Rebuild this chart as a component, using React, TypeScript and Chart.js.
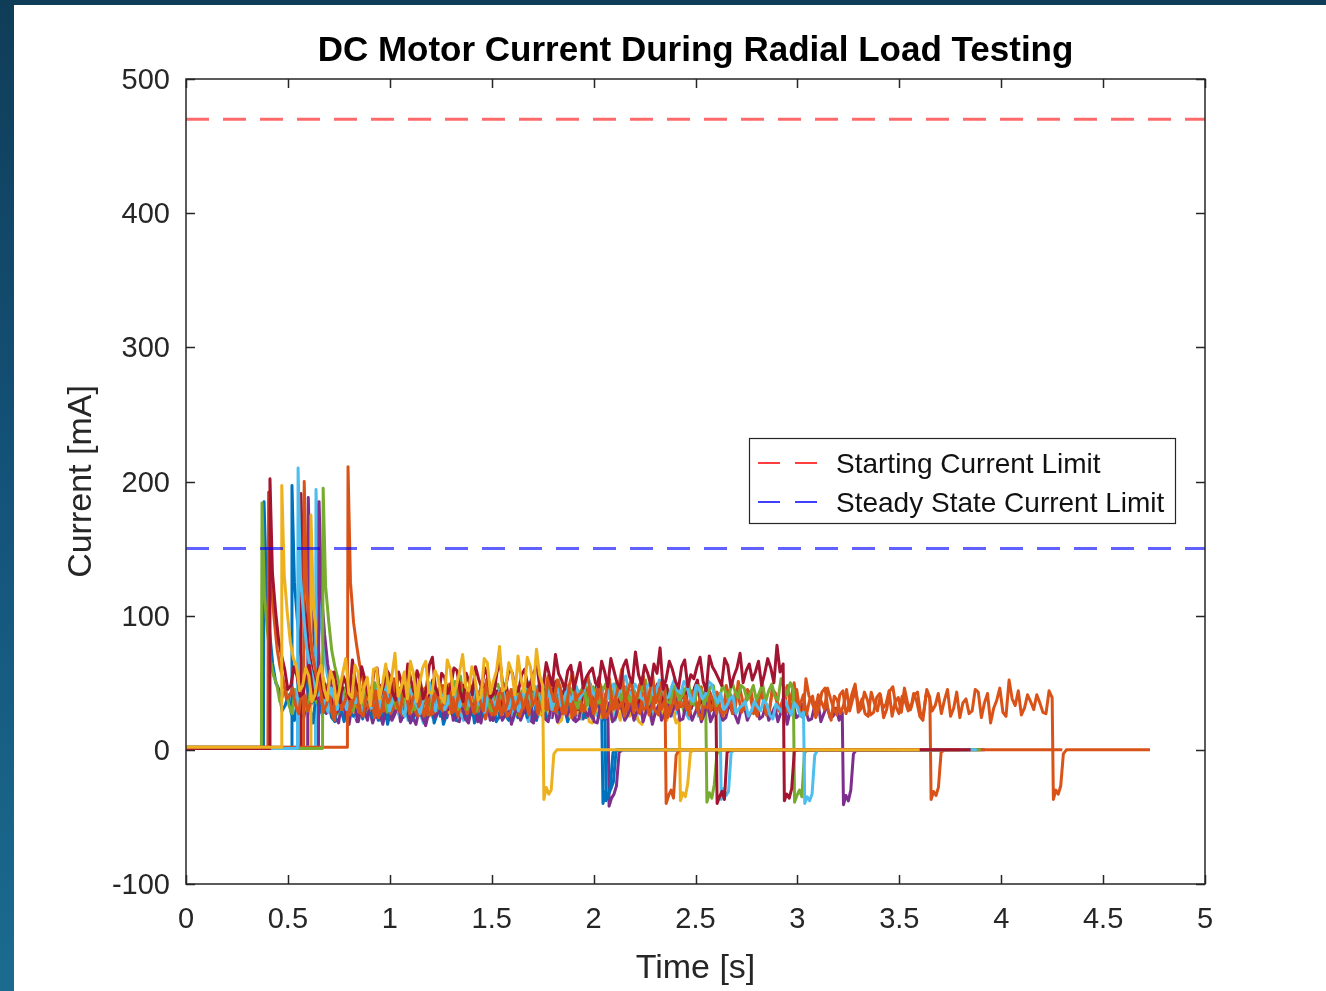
import React, { useEffect, useRef } from "react";
import { Chart, registerables } from "chart.js";

Chart.register(...registerables);

// ---------- data ----------
const titleText = "DC Motor Current During Radial Load Testing";
const xAxisTitle = "Time [s]";
const yAxisTitle = "Current [mA]";
const xTicks = [0, 0.5, 1, 1.5, 2, 2.5, 3, 3.5, 4, 4.5, 5];
const yTicks = [-100, 0, 100, 200, 300, 400, 500];
const xRange = [0, 5];
const yRange = [-100, 500];

const legendLabels = ["Starting Current Limit", "Steady State Current Limit"];
const startingCurrentLimit = 470;
const steadyStateCurrentLimit = 150;

const BLUE = "#0072BD";
const ORANGE = "#D95319";
const YELLOW = "#EDB120";
const PURPLE = "#7E2F8E";
const GREEN = "#77AC30";
const LIGHTBLUE = "#4DBEEE";
const DARKRED = "#A2142F";

const traceColors = [BLUE, BLUE, YELLOW, YELLOW, ORANGE, ORANGE, ORANGE, DARKRED, DARKRED, GREEN, GREEN, LIGHTBLUE, LIGHTBLUE, PURPLE, PURPLE];
const traceOrder = [12, 13, 1, 10, 3, 6, 7, 2, 9, 11, 5, 4, 14, 8, 15];
const onTimes = [0.383, 0.52, 0.47, 0.613, 0.405, 0.58, 0.795, 0.412, 0.564, 0.373, 0.673, 0.55, 0.638, 0.653, 0.6];
const peakCurrents = [185, 197, 197, 175, 192, 200, 211, 202, 191, 184, 195, 210, 194, 185, 188];
const offTimes = [2.04, 2.055, 1.75, 2.42, 2.35, 3.65, 4.25, 2.93, 2.6, 2.55, 2.98, 3.03, 2.62, 3.22, 2.07];
const endTimes = [3.72, 3.45, 3.6, 3.3, 3.8, 4.3, 4.73, 3.85, 3.5, 3.75, 3.9, 3.88, 3.7, 3.92, 3.6];
const idleLevels = [1, 1, 2, 1, 2, 1, 2, 1, 1, 2, 1, 1, 2, 1, 1];
const dropOffsets = [0.006, 0.018, 0.03, 0.042, 0.055];
const dropCurrents = [
  [-40, -31, -36, -27, -2],
  [-38, -33, -29, -24, -1],
  [-37, -28, -33, -30, -3],
  [-38, -32, -35, -25, -2],
  [-40, -34, -30, -36, -4],
  [-37, -31, -34, -28, -2],
  [-37, -30, -33, -27, -3],
  [-38, -33, -36, -29, -1],
  [-40, -35, -31, -37, -2],
  [-39, -32, -36, -26, -3],
  [-39, -34, -30, -35, -2],
  [-40, -35, -38, -33, -4],
  [-37, -29, -34, -31, -2],
  [-41, -34, -38, -30, -3],
  [-42, -36, -33, -27, -2],
];

// running current samples (main samples)
const run1 = [118, 64, 45, 33, 27, 38, 24, 31, 43, 26, 35, 21, 30, 39, 25, 33, 48, 28, 22, 36, 29, 41, 24, 32, 27, 44, 30, 20, 34, 26, 38, 29, 23, 36, 31, 25, 46, 28, 33, 22, 30, 40, 27, 24, 35, 29, 37, 23, 32, 28, 26, 41, 30, 34, 25];
const run2 = [125, 72, 50, 36, 42, 29, 34, 47, 31, 26, 39, 33, 45, 28, 37, 24, 41, 35, 30, 48, 27, 38, 32, 44, 29, 36, 22, 40, 34, 31, 46, 28, 37, 25, 42, 33, 29, 39, 35, 27, 44, 31, 36, 24, 38, 30, 43, 34, 28, 37, 32];
const run3 = [130, 80, 62, 48, 55, 41, 63, 37, 52, 45, 68, 39, 58, 47, 33, 61, 50, 43, 72, 46, 38, 57, 49, 66, 42, 54, 35, 60, 48, 71, 44, 53, 40, 65, 51, 77, 46, 58, 70, 43, 62, 75, 48];
const run4 = [110, 68, 47, 38, 44, 31, 40, 35, 49, 29, 37, 42, 33, 46, 28, 39, 36, 51, 30, 41, 34, 45, 27, 38, 43, 32, 47, 35, 29, 40, 36, 44, 31, 39, 48, 33, 37, 30, 26, 34, 22, 29, 37, 24, 31, 20, 28, 35, 23, 30, 41, 25, 27, 19, 33, 26, 38, 22, 29, 24];
const run5 = [128, 75, 52, 40, 33, 45, 29, 38, 50, 34, 27, 42, 36, 31, 47, 25, 39, 44, 30, 35, 53, 28, 41, 37, 32, 46, 26, 40, 34, 49, 30, 38, 43, 27, 36, 52, 33, 41, 29, 45, 35, 31, 48, 38, 42, 55, 36, 47, 30, 58, 41, 50, 34, 45, 28, 53, 39, 60, 44, 37, 49, 32, 56, 42, 46];
const run6 = [120, 70, 48, 36, 29, 41, 33, 26, 38, 44, 31, 24, 37, 47, 30, 35, 28, 42, 33, 25, 39, 46, 29, 36, 32, 50, 27, 40, 34, 23, 43, 31, 37, 28, 45, 33, 26, 39, 48, 30, 35, 41, 27, 36, 44, 29, 38, 33, 24, 46, 31, 40, 35, 28, 49, 32, 37, 26, 42, 34, 30, 45, 28, 38, 23, 41, 36, 31, 48, 27, 39, 33, 44, 25, 37, 30, 42, 35, 28, 50, 34, 26, 40, 31, 46, 22, 37, 33, 29, 44, 38, 25, 35, 41, 30, 47, 27, 36, 32, 43, 28, 39];
const run7 = [125, 78, 55, 42, 35, 28, 40, 33, 46, 30, 37, 25, 43, 34, 29, 48, 36, 31, 39, 27, 44, 33, 38, 26, 41, 35, 30, 47, 32, 28, 40, 36, 45, 29, 34, 38, 24, 42, 31, 49, 33, 37, 28, 43, 35, 30, 46, 27, 39, 32, 41, 36, 29, 44, 33, 26, 38, 47, 31, 35, 42, 28, 37, 51, 30, 39, 34, 45, 27, 40, 32, 48, 36, 29, 53, 35, 41, 30, 38, 26, 44, 33, 49, 31, 37, 28, 42, 34, 25, 39, 46, 30, 36, 22, 40, 33, 27, 45, 31, 24, 38, 29, 43, 35, 20, 37, 28, 52, 33, 26, 41, 30, 35, 27, 39];
const run8 = [132, 82, 60, 48, 55, 42, 63, 38, 51, 46, 58, 35, 49, 67, 44, 53, 40, 61, 47, 56, 37, 50, 64, 43, 52, 45, 69, 41, 54, 48, 59, 36, 50, 62, 46, 55, 42, 66, 49, 57, 44, 60, 51, 63, 48, 56, 71, 52, 59, 45, 65, 54, 61, 47, 58, 68, 50, 62, 55, 73, 49, 57, 64, 76, 53, 60, 46, 67, 56, 62, 51, 70, 58, 48, 63, 55, 72, 59, 52, 66, 57, 61, 78, 64];
const run9 = [118, 70, 51, 43, 36, 48, 32, 41, 53, 38, 29, 45, 40, 34, 50, 37, 42, 27, 46, 39, 33, 52, 41, 36, 44, 30, 48, 38, 43, 35, 55, 40, 31, 47, 37, 42, 28, 49, 39, 45, 34, 51, 41, 36, 46, 32, 43, 38, 54, 40, 35, 47, 30, 44, 39, 50, 37, 42, 33, 48, 41, 36, 45, 31, 52, 39, 43, 37];
const run10 = [115, 66, 49, 40, 33, 45, 37, 29, 42, 51, 35, 40, 27, 46, 38, 32, 48, 36, 43, 30, 53, 39, 34, 44, 28, 41, 37, 49, 33, 45, 31, 39, 55, 36, 42, 29, 47, 38, 34, 50, 40, 26, 44, 37, 48, 33, 41, 35, 52, 39, 30, 45, 36, 43, 28, 47, 40, 34, 50, 38, 42, 32, 46, 37, 41, 29, 44, 39, 35, 48, 33, 40, 36];
const run11 = [122, 74, 53, 42, 35, 47, 31, 40, 50, 36, 28, 44, 39, 33, 48, 37, 42, 26, 45, 38, 34, 51, 40, 30, 46, 36, 43, 29, 49, 38, 35, 44, 32, 41, 47, 37, 53, 33, 42, 39, 45, 31, 48, 40, 36, 44, 41, 49, 37, 43, 46, 39, 52, 42, 38, 47, 35, 44, 41, 50, 36, 45, 40, 48, 38, 43, 51, 39, 46, 42, 37, 49, 44, 40, 53, 41, 45];
const run12 = [128, 76, 54, 41, 34, 46, 30, 38, 49, 35, 27, 43, 37, 31, 47, 36, 40, 25, 44, 33, 38, 50, 29, 41, 35, 45, 32, 39, 48, 34, 28, 42, 37, 46, 31, 40, 35, 51, 33, 43, 38, 30, 45, 39, 36, 47, 42, 52, 40, 45, 38, 49, 43, 55, 41, 46, 37, 50, 44, 48, 39, 53, 42, 47, 36, 45, 41, 49, 35, 30, 38, 27, 33, 25, 36, 29, 34, 23, 31, 37, 26, 32, 28];
const run13 = [120, 68, 46, 35, 28, 39, 24, 32, 41, 29, 22, 36, 31, 26, 43, 28, 34, 20, 38, 30, 25, 40, 33, 27, 45, 29, 35, 23, 37, 31, 26, 42, 30, 34, 21, 39, 28, 33, 44, 27, 32, 24, 37, 30, 41, 26, 35, 29, 22, 38, 31, 27, 43, 33, 25, 36, 30, 40, 28, 34, 23, 37, 29, 32, 26, 35];
const run14 = [116, 64, 42, 31, 25, 34, 21, 29, 37, 24, 19, 32, 27, 22, 36, 26, 30, 18, 33, 28, 23, 38, 25, 31, 20, 35, 27, 29, 22, 34, 26, 19, 31, 28, 37, 24, 30, 21, 33, 27, 25, 36, 23, 29, 32, 20, 28, 35, 24, 31, 26, 22, 34, 29, 19, 33, 27, 25, 38, 23, 30, 28, 21, 35, 26, 31, 24, 29, 20, 33, 27, 36, 25, 22, 32, 28, 19, 34, 26, 30, 23, 37, 27, 24, 31, 28];
const run15 = [112, 62, 40, 30, 24, 35, 22, 28, 38, 26, 20, 33, 29, 23, 37, 27, 31, 19, 34, 25, 30, 39, 24, 32, 21, 36, 28, 26, 33, 22, 35, 29, 25, 40, 27, 31, 20, 34, 28, 24, 37, 30, 26, 33, 23, 29, 36, 27, 31];

// in-between samples (taken halfway between the main samples)
const mid1 = [88, 50, 29, 41, 22, 27, 36, 20, 33, 40, 24, 34, 21, 37, 44, 23, 31, 40, 25, 19, 34, 30, 43, 22, 35, 21, 38, 27, 19, 35, 24, 40, 29, 20, 37, 33, 22, 39, 26, 34, 24, 33, 38, 22, 40, 26, 31, 36, 21, 38, 33, 24, 39, 28];
const mid2 = [95, 58, 33, 45, 27, 41, 25, 36, 40, 35, 28, 46, 24, 38, 23, 43, 30, 42, 22, 36, 45, 26, 41, 25, 39, 47, 33, 26, 43, 22, 35, 44, 21, 39, 27, 40, 34, 24, 41, 32, 23, 43, 30, 45, 26, 37, 24, 40, 33, 25];
const mid3 = [102, 68, 44, 61, 36, 56, 45, 59, 34, 57, 42, 63, 35, 54, 60, 38, 64, 55, 40, 58, 66, 36, 61, 43, 59, 39, 67, 41, 58, 47, 62, 37, 68, 42, 59, 44, 65, 41, 52, 69, 45, 56];
const mid4 = [86, 55, 36, 47, 30, 43, 28, 46, 33, 41, 27, 38, 45, 31, 42, 26, 44, 34, 40, 29, 46, 31, 40, 28, 45, 36, 30, 42, 39, 27, 45, 30, 43, 28, 37, 42, 26, 35, 31, 20, 33, 24, 29, 35, 21, 32, 24, 30, 36, 22, 33, 29, 21, 31, 22, 30, 27, 33, 20];
const mid5 = [98, 61, 38, 46, 27, 40, 36, 45, 28, 40, 37, 30, 44, 39, 28, 41, 33, 26, 43, 40, 33, 45, 27, 44, 39, 29, 42, 31, 45, 28, 43, 32, 35, 44, 29, 40, 27, 46, 36, 30, 42, 39, 33, 48, 31, 44, 52, 29, 49, 37, 43, 56, 30, 49, 44, 31, 48, 36, 52, 40, 55, 43, 35, 51];
const mid6 = [90, 57, 34, 45, 22, 37, 40, 31, 28, 36, 41, 33, 29, 38, 43, 26, 39, 30, 44, 34, 27, 37, 42, 28, 45, 35, 41, 30, 44, 36, 26, 40, 25, 41, 29, 38, 42, 27, 35, 43, 28, 33, 45, 26, 34, 42, 27, 45, 37, 30, 43, 25, 44, 39, 30, 41, 29, 44, 27, 41, 36, 31, 44, 27, 40, 29, 43, 25, 38, 44, 28, 42, 31, 43, 26, 45, 29, 41, 39, 32, 41, 37, 24, 43, 30, 40, 27, 45, 38, 31, 27, 43, 29, 24, 44, 32, 40, 29, 41, 26, 45];
const mid7 = [95, 63, 36, 47, 24, 37, 27, 44, 34, 41, 29, 38, 26, 45, 40, 30, 43, 25, 36, 42, 28, 44, 30, 37, 26, 43, 36, 25, 41, 37, 27, 42, 31, 40, 27, 44, 33, 29, 43, 30, 41, 24, 39, 30, 44, 37, 31, 42, 26, 44, 30, 24, 42, 32, 40, 43, 29, 33, 42, 27, 36, 44, 30, 41, 45, 27, 42, 30, 44, 33, 42, 31, 45, 24, 40, 29, 36, 46, 31, 41, 27, 42, 28, 43, 26, 39, 31, 44, 36, 28, 35, 42, 25, 41, 29, 42, 37, 25, 43, 35, 27, 45, 24, 42, 31, 46, 25, 38, 44, 31, 36, 41, 28, 44];
const mid8 = [104, 70, 45, 62, 40, 56, 45, 60, 39, 57, 44, 55, 38, 51, 62, 41, 58, 39, 60, 43, 58, 40, 52, 59, 38, 63, 46, 57, 42, 61, 44, 57, 41, 53, 61, 39, 58, 45, 61, 43, 56, 47, 58, 44, 65, 48, 57, 45, 63, 55, 46, 58, 50, 66, 47, 59, 46, 67, 50, 56, 63, 48, 57, 45, 66, 51, 62, 47, 53, 69, 44, 62, 53, 68, 47, 61, 50, 64, 58, 48, 68, 50, 58];
const mid9 = [92, 58, 40, 49, 30, 42, 46, 33, 44, 31, 41, 35, 48, 38, 42, 30, 48, 35, 30, 45, 41, 34, 47, 30, 49, 37, 33, 46, 31, 47, 36, 44, 39, 33, 47, 30, 44, 34, 50, 32, 44, 30, 46, 38, 30, 47, 36, 45, 31, 46, 41, 32, 47, 35, 31, 45, 33, 49, 40, 31, 47, 39, 32, 46, 35, 47, 30];
const mid10 = [88, 55, 36, 45, 27, 40, 32, 44, 35, 40, 45, 30, 41, 31, 45, 40, 29, 44, 34, 46, 30, 44, 26, 40, 46, 32, 44, 30, 42, 34, 46, 36, 27, 44, 33, 46, 30, 44, 28, 35, 44, 36, 29, 44, 30, 48, 29, 45, 30, 48, 37, 28, 47, 32, 44, 31, 46, 27, 44, 30, 39, 47, 29, 45, 34, 47, 31, 46, 28, 40, 44, 30];
const mid11 = [96, 62, 40, 49, 29, 41, 45, 33, 42, 46, 38, 31, 46, 41, 30, 47, 33, 44, 31, 47, 41, 30, 46, 41, 29, 45, 33, 47, 39, 32, 45, 38, 47, 33, 44, 29, 43, 46, 33, 47, 37, 44, 33, 47, 35, 49, 35, 44, 47, 36, 40, 48, 34, 46, 45, 36, 48, 37, 46, 34, 48, 34, 47, 33, 48, 38, 44, 48, 37, 48, 43, 36, 49, 37, 46, 50];
const mid12 = [100, 63, 40, 47, 28, 38, 44, 30, 43, 40, 34, 31, 45, 40, 29, 44, 30, 46, 36, 27, 44, 37, 42, 30, 45, 36, 41, 33, 38, 46, 39, 33, 45, 30, 43, 29, 44, 37, 47, 35, 44, 41, 33, 46, 41, 38, 50, 44, 48, 38, 46, 39, 50, 44, 49, 39, 47, 41, 52, 39, 47, 44, 51, 39, 48, 38, 51, 40, 42, 33, 40, 31, 36, 29, 32, 37, 26, 34, 28, 31, 35, 25];
const mid13 = [90, 54, 31, 40, 22, 33, 38, 25, 34, 36, 30, 25, 37, 34, 22, 37, 26, 35, 24, 36, 32, 27, 38, 22, 36, 26, 38, 31, 24, 36, 34, 22, 37, 28, 34, 25, 36, 24, 32, 35, 26, 35, 23, 36, 32, 24, 38, 33, 31, 24, 36, 23, 35, 28, 38, 26, 35, 25, 38, 27, 34, 25, 36, 24, 37];
const mid14 = [86, 50, 28, 36, 19, 30, 32, 22, 33, 28, 30, 22, 35, 30, 20, 33, 24, 28, 24, 35, 31, 22, 33, 23, 32, 21, 36, 25, 31, 22, 31, 27, 22, 33, 21, 35, 23, 32, 21, 34, 30, 21, 34, 25, 21, 32, 24, 21, 33, 22, 33, 29, 21, 34, 28, 22, 34, 31, 22, 35, 22, 33, 27, 21, 35, 22, 34, 26, 30, 22, 32, 23, 33, 27, 21, 36, 29, 24, 34, 22, 33, 21, 33, 25, 22];
const mid15 = [84, 48, 27, 35, 20, 31, 34, 21, 33, 30, 28, 24, 34, 31, 21, 35, 24, 30, 23, 35, 33, 25, 35, 22, 33, 23, 34, 20, 35, 26, 24, 35, 32, 24, 36, 22, 33, 25, 31, 35, 26, 35, 22, 34, 30, 23, 34, 22];

const runCurrents = [run1, run2, run3, run4, run5, run6, run7, run8, run9, run10, run11, run12, run13, run14, run15];
const midCurrents = [mid1, mid2, mid3, mid4, mid5, mid6, mid7, mid8, mid9, mid10, mid11, mid12, mid13, mid14, mid15];

// ---------- styling ----------
const FONT = "'Liberation Sans', Arial, Helvetica, sans-serif";
const AXIS_COLOR = "#262626";
const CANVAS_W = 1312;
const CANVAS_H = 986;

function buildTrace(i: number) {
  const pts: { x: number; y: number }[] = [];
  const on = onTimes[i];
  const off = offTimes[i];
  pts.push({ x: 0, y: idleLevels[i] });
  pts.push({ x: on - 0.003, y: idleLevels[i] });
  pts.push({ x: on, y: peakCurrents[i] });
  const run = runCurrents[i];
  const mid = midCurrents[i];
  const t0 = on + 0.012;
  const step = (off - t0) / (run.length - 1);
  run.forEach((v, k) => {
    pts.push({ x: t0 + k * step, y: v });
    if (k < run.length - 1 && k < mid.length) pts.push({ x: t0 + (k + 0.5) * step, y: mid[k] });
  });
  dropCurrents[i].forEach((v, k) => pts.push({ x: off + dropOffsets[k], y: v }));
  pts.push({ x: off + 0.07, y: 0 });
  pts.push({ x: endTimes[i], y: 0 });
  return pts;
}

const frameAndLegend = {
  id: "frameAndLegend",
  beforeDatasetsDraw(chart: any) {
    const { ctx, chartArea: a, scales } = chart;
    ctx.save();
    ctx.strokeStyle = AXIS_COLOR;
    ctx.lineWidth = 1.5;
    const tl = 9;
    ctx.beginPath();
    xTicks.forEach((v) => {
      const px = Math.round(scales.x.getPixelForValue(v)) + 0.5;
      ctx.moveTo(px, a.bottom);
      ctx.lineTo(px, a.bottom - tl);
      ctx.moveTo(px, a.top);
      ctx.lineTo(px, a.top + tl);
    });
    yTicks.forEach((v) => {
      const py = Math.round(scales.y.getPixelForValue(v)) + 0.5;
      ctx.moveTo(a.left, py);
      ctx.lineTo(a.left + tl, py);
      ctx.moveTo(a.right, py);
      ctx.lineTo(a.right - tl, py);
    });
    ctx.stroke();
    ctx.restore();
  },
  afterDatasetsDraw(chart: any) {
    const { ctx, chartArea: a } = chart;
    ctx.save();
    ctx.strokeStyle = AXIS_COLOR;
    ctx.lineWidth = 1.5;
    ctx.strokeRect(a.left, a.top, a.right - a.left, a.bottom - a.top);
    // legend
    const lx = 735, ly = 433, lw = 426, lh = 85;
    ctx.fillStyle = "#ffffff";
    ctx.fillRect(lx, ly, lw, lh);
    ctx.lineWidth = 1.2;
    ctx.strokeRect(lx + 0.5, ly + 0.5, lw, lh);
    const rows = [
      { label: legendLabels[0], color: "#ff0000", y: ly + 25 },
      { label: legendLabels[1], color: "#0000ff", y: ly + 64 },
    ];
    rows.forEach((r) => {
      ctx.strokeStyle = r.color;
      ctx.lineWidth = 1.6;
      ctx.setLineDash([22, 15]);
      ctx.beginPath();
      ctx.moveTo(lx + 9, r.y);
      ctx.lineTo(lx + 69, r.y);
      ctx.stroke();
      ctx.setLineDash([]);
      ctx.fillStyle = "#111111";
      ctx.font = `28px ${FONT}`;
      ctx.textBaseline = "middle";
      ctx.textAlign = "left";
      ctx.fillText(r.label, lx + 87, r.y + 2);
    });
    ctx.restore();
  },
};

export default function App() {
  const canvasRef = useRef<HTMLCanvasElement>(null);

  useEffect(() => {
    document.body.style.margin = "0";
    const traceSets = traceColors.map((c, i) => ({
      label: `Run ${i + 1}`,
      data: buildTrace(i),
      borderColor: c,
      borderWidth: 3,
      borderJoinStyle: "round",
      pointRadius: 0,
      fill: false,
      tension: 0,
      order: traceOrder[i],
    }));
    const refSets = [
      {
        label: legendLabels[0],
        data: [
          { x: xRange[0], y: startingCurrentLimit },
          { x: xRange[1], y: startingCurrentLimit },
        ],
        borderColor: "rgba(255,0,0,0.58)",
        borderWidth: 3,
        borderDash: [23, 14],
        pointRadius: 0,
        order: 0,
      },
      {
        label: legendLabels[1],
        data: [
          { x: xRange[0], y: steadyStateCurrentLimit },
          { x: xRange[1], y: steadyStateCurrentLimit },
        ],
        borderColor: "rgba(0,0,255,0.62)",
        borderWidth: 3,
        borderDash: [23, 14],
        pointRadius: 0,
        order: 0,
      },
    ];

    const chart = new Chart(canvasRef.current!, {
      type: "line",
      data: { datasets: [...refSets, ...traceSets] as any },
      options: {
        animation: false,
        responsive: false,
        devicePixelRatio: 1,
        parsing: false as any,
        layout: { padding: { left: 0, right: 121, top: 0, bottom: 0 } },
        plugins: {
          legend: { display: false },
          tooltip: { enabled: false },
          title: {
            display: true,
            text: titleText,
            fullSize: false,
            color: "#000000",
            font: { family: FONT, size: 35, weight: "bold", lineHeight: 1.2 },
            padding: { top: 25, bottom: 7 },
          },
        },
        scales: {
          x: {
            type: "linear",
            min: xRange[0],
            max: xRange[1],
            grid: { display: false, drawTicks: false },
            border: { display: false },
            afterFit: (s: any) => {
              s.height = 107;
            },
            afterBuildTicks: (s: any) => {
              s.ticks = xTicks.map((v) => ({ value: v }));
            },
            ticks: {
              color: AXIS_COLOR,
              padding: 19,
              maxRotation: 0,
              autoSkip: false,
              font: { family: FONT, size: 29 },
              callback: (v: any) => String(v),
            },
            title: {
              display: true,
              text: xAxisTitle,
              color: AXIS_COLOR,
              font: { family: FONT, size: 34 },
              padding: { top: 0, bottom: 2 },
            },
          },
          y: {
            type: "linear",
            min: yRange[0],
            max: yRange[1],
            grid: { display: false, drawTicks: false },
            border: { display: false },
            afterFit: (s: any) => {
              s.width = 172;
            },
            afterBuildTicks: (s: any) => {
              s.ticks = yTicks.map((v) => ({ value: v }));
            },
            ticks: {
              color: AXIS_COLOR,
              padding: 16,
              labelOffset: 2,
              autoSkip: false,
              font: { family: FONT, size: 29 },
              callback: (v: any) => String(v),
            },
            title: {
              display: true,
              text: yAxisTitle,
              color: AXIS_COLOR,
              font: { family: FONT, size: 34 },
              padding: { top: 47, bottom: 0 },
            },
          },
        },
      },
      plugins: [frameAndLegend],
    });
    return () => chart.destroy();
  }, []);

  return (
    <div
      style={{
        position: "absolute",
        left: 0,
        top: 0,
        width: 1326,
        height: 991,
        overflow: "hidden",
        background: "linear-gradient(180deg, #0f3d58 0%, #14537a 50%, #1b6b90 100%)",
      }}
    >
      <div style={{ position: "absolute", left: 14, top: 5, width: CANVAS_W, height: CANVAS_H, background: "#ffffff" }}>
        <canvas ref={canvasRef} width={CANVAS_W} height={CANVAS_H} style={{ display: "block" }} />
      </div>
    </div>
  );
}
